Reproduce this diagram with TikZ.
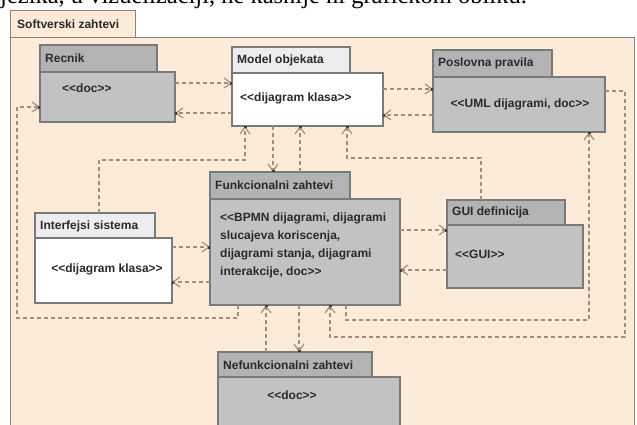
\documentclass[tikz,border=0pt]{standalone}
\usepackage{fontspec}
\setmainfont{Liberation Sans}
\newfontfamily\pagefont{Liberation Serif}
\usetikzlibrary{arrows.meta,calc}
\definecolor{pkgfill}{HTML}{FDEBDA}
\definecolor{pkgline}{HTML}{8C8279}
\definecolor{boxline}{HTML}{7A7A7A}
\definecolor{grayfill}{HTML}{C2C2C2}
\definecolor{graytab}{HTML}{B3B3B3}
\definecolor{whitetab}{HTML}{EDEDEF}
\definecolor{depline}{HTML}{A38E7B}
\definecolor{tipdark}{HTML}{4A4036}
\definecolor{txt}{HTML}{2A2A2A}

% stereotype brackets, kept as two separate characters
\newcommand{\stOpen}{<\kern0pt<}
\newcommand{\stClose}{>\kern0pt>}

\tikzset{
  box/.style={draw=boxline, line width=1.4pt, anchor=north west, inner sep=0pt, outer sep=0pt},
  graybody/.style={box, fill=grayfill},
  graytabst/.style={box, fill=graytab},
  whitebody/.style={box, fill=white},
  whitetabst/.style={box, fill=whitetab},
  lbl/.style={anchor=west, inner sep=0pt, font=\fontsize{12}{18}\selectfont\bfseries, text=txt},
  link/.style={draw=depline, line width=1.2pt, dash pattern=on 4pt off 3pt},
  dep/.style={link, -{Straight Barb[length=7pt,width=10pt,line width=1.2pt,sep=-2pt] Square[length=2pt,width=3pt,color=tipdark]}},
}

\begin{document}
\begin{tikzpicture}[x=1pt, y=-1pt]
\useasboundingbox (0,0) rectangle (637,424);

% line of running text above the figure
\node[anchor=base west, inner sep=0pt, font=\pagefont\fontsize{24.5}{24.5}\selectfont] (pg) at (0,3)
  {jezika, u vizuelizaciji, ne kasnije ni grafičkom obliku.};

% enclosing package
\node[draw=pkgline, fill=pkgfill, line width=1.4pt, anchor=north west, inner sep=0pt,
      minimum width=125pt, minimum height=27pt] (pkT) at (10,10) {};
\node[draw=pkgline, fill=pkgfill, line width=1.4pt, anchor=north west, inner sep=0pt,
      minimum width=624pt, minimum height=392pt] (pkB) at (10,37) {};
\node[lbl] (pkL) at (17,24) {Softverski zahtevi};

% Recnik
\node[graytabst, minimum width=117pt, minimum height=27pt] (recT) at (40,45) {};
\node[graybody, minimum width=135pt, minimum height=50pt] (rec) at (40,72) {};
\node[lbl] (recL) at (45,58) {Recnik};
\node[lbl] (recX) at (62,88) {\stOpen doc\stClose};

% Model objekata
\node[whitetabst, minimum width=118pt, minimum height=26pt] (modT) at (232,47) {};
\node[whitebody, minimum width=151pt, minimum height=53pt] (mod) at (232,73) {};
\node[lbl] (modL) at (237,60) {Model objekata};
\node[lbl] (modX) at (240,98) {\stOpen dijagram klasa\stClose};

% Poslovna pravila
\node[graytabst, minimum width=119pt, minimum height=27pt] (posT) at (433,50) {};
\node[graybody, minimum width=172pt, minimum height=55pt] (pos) at (433,77) {};
\node[lbl] (posL) at (438,63) {Poslovna pravila};
\node[lbl, anchor=center] (posX) at (520,104) {\stOpen UML dijagrami, doc\stClose};

% Funkcionalni zahtevi
\node[graytabst, minimum width=140pt, minimum height=27pt] (funT) at (210,172) {};
\node[graybody, minimum width=190pt, minimum height=106pt] (fun) at (210,199) {};
\node[lbl] (funL) at (215,185) {Funkcionalni zahtevi};
\node[lbl, anchor=north west, align=left] (funX) at (220,213)
  {\stOpen BPMN dijagrami, dijagrami\\slucajeva koriscenja,\\dijagrami stanja, dijagrami\\interakcije, doc\stClose};

% GUI definicija
\node[graytabst, minimum width=118pt, minimum height=25pt] (guiT) at (447,200) {};
\node[graybody, minimum width=136pt, minimum height=63pt] (gui) at (447,225) {};
\node[lbl] (guiL) at (452,212) {GUI definicija};
\node[lbl] (guiX) at (455,254) {\stOpen GUI\stClose};

% Interfejsi sistema
\node[whitetabst, minimum width=120pt, minimum height=25pt] (intT) at (35,213) {};
\node[whitebody, minimum width=137pt, minimum height=65pt] (int) at (35,238) {};
\node[lbl] (intL) at (40,226) {Interfejsi sistema};
\node[lbl, anchor=center] (intX) at (107,269) {\stOpen dijagram klasa\stClose};

% Nefunkcionalni zahtevi
\node[graytabst, minimum width=154pt, minimum height=25pt] (nefT) at (218,352) {};
\node[graybody, minimum width=182pt, minimum height=50pt] (nef) at (218,377) {};
\node[lbl] (nefL) at (223,365) {Nefunkcionalni zahtevi};
\node[lbl, anchor=center] (nefX) at (292,395) {\stOpen doc\stClose};

% dependencies: Recnik <-> Model objekata
\draw[dep] (rec.east |- 0,83) -- (mod.west |- 0,83);
\draw[dep] (mod.west |- 0,113) -- (rec.east |- 0,113);
% Model objekata <-> Poslovna pravila
\draw[dep] (mod.east |- 0,89) -- (pos.west |- 0,89);
\draw[dep] (pos.west |- 0,115) -- (mod.east |- 0,115);
% Funkcionalni zahtevi -> Recnik, around the left side
\draw[dep] (fun.south -| 238,0) -- (238,318) -- (17,318) -- (17,107) -- (rec.west |- 0,107);
% Interfejsi sistema -> Model objekata
\draw[dep] (intT.north -| 99,0) -- (99,160) -- (245,160) -- (mod.south -| 245,0);
% Model objekata <-> Funkcionalni zahtevi
\draw[dep] (mod.south -| 273,0) -- (funT.north -| 273,0);
\draw[dep] (funT.north -| 300,0) -- (mod.south -| 300,0);
% GUI definicija -> Model objekata
\draw[dep] (guiT.north -| 481,0) -- (481,158) -- (347,158) -- (mod.south -| 347,0);
% Funkcionalni zahtevi -> Poslovna pravila
\draw[dep] (fun.south -| 346,0) -- (346,320) -- (589,320) -- (pos.south -| 589,0);
% Poslovna pravila -> Funkcionalni zahtevi, around the right side
\draw[dep] (pos.east |- 0,91) -- (625,91) -- (625,337) -- (330,337) -- (fun.south -| 330,0);
% Funkcionalni zahtevi <-> GUI definicija
\draw[dep] (fun.east |- 0,230) -- (gui.west |- 0,230);
\draw[dep] (gui.west |- 0,270) -- (fun.east |- 0,270);
% Interfejsi sistema <-> Funkcionalni zahtevi
\draw[dep] (int.east |- 0,247) -- (fun.west |- 0,247);
\draw[dep] (fun.west |- 0,282) -- (int.east |- 0,282);
% Nefunkcionalni zahtevi <-> Funkcionalni zahtevi
\draw[dep] (nefT.north -| 266,0) -- (fun.south -| 266,0);
\draw[dep] (fun.south -| 299,0) -- (nefT.north -| 299,0);
\end{tikzpicture}
\end{document}
